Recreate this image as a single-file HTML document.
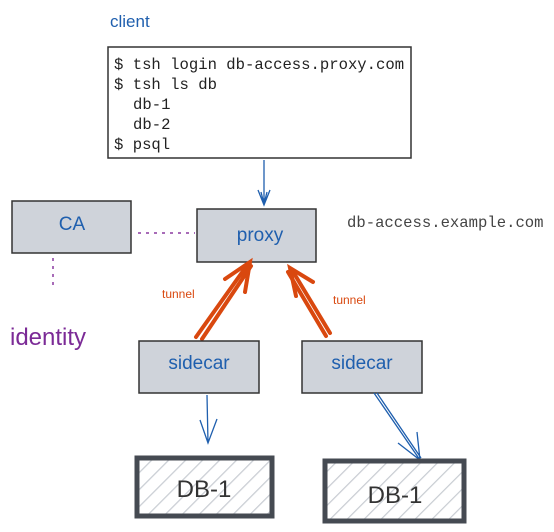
<!DOCTYPE html>
<html><head><style>
html,body{margin:0;padding:0;background:#fff;}
svg{display:block}
.h{font-family:"Comic Sans MS","Liberation Sans",sans-serif;}
.m{font-family:"Liberation Mono","DejaVu Sans Mono",monospace;}
</style></head><body>
<svg width="554" height="532" viewBox="0 0 554 532" xmlns="http://www.w3.org/2000/svg">
<defs>
<pattern id="hatch" width="12" height="12" patternUnits="userSpaceOnUse" patternTransform="rotate(45)">
<line x1="0" y1="0" x2="0" y2="12" stroke="#c9cdd3" stroke-width="2.5"/>
</pattern>
</defs>
<text x="110" y="27" class="h" font-size="17" fill="#1f5fae">client</text>
<rect x="108" y="47" width="303" height="111" fill="#fff" stroke="#333" stroke-width="1.5"/>
<text class="m" font-size="15.6" fill="#222">
<tspan x="114" y="69">$ tsh login db-access.proxy.com</tspan>
<tspan x="114" y="89">$ tsh ls db</tspan>
<tspan x="133" y="109">db-1</tspan>
<tspan x="133" y="129">db-2</tspan>
<tspan x="114" y="149">$ psql</tspan>
</text>
<path d="M264 160 L264 205 M258 190 L264 205 L270 190 M261 192 L264 204 L267 192" stroke="#1f5fae" stroke-width="1.3" fill="none"/>
<rect x="12" y="201" width="119" height="52" fill="#cfd3da" stroke="#333" stroke-width="1.5"/>
<text x="72" y="230" class="h" font-size="19" fill="#1f5fae" text-anchor="middle">CA</text>
<path d="M138 233 L195 233" stroke="#8b3aa0" stroke-width="1.5" stroke-dasharray="3,5"/>
<path d="M53 258 L53 288" stroke="#8b3aa0" stroke-width="1.5" stroke-dasharray="3,5"/>
<text x="10" y="345" class="h" font-size="24" fill="#7b2a96">identity</text>
<rect x="197" y="209" width="119" height="53" fill="#cfd3da" stroke="#333" stroke-width="1.5"/>
<text x="260" y="241" class="h" font-size="19" fill="#1f5fae" text-anchor="middle">proxy</text>
<text x="347" y="227" class="m" font-size="15.6" fill="#444">db-access.example.com</text>
<g stroke="#d9480f" stroke-width="4" fill="none" stroke-linecap="round">
<path d="M196 337 L248 264 M202 339 L251 266"/>
<path d="M225 279 L250 262 L245 292"/>
<path d="M330 333 L292 270 M326 336 L288 272"/>
<path d="M296 296 L290 268 L313 282"/>
</g>
<text x="162" y="298" class="h" font-size="12" fill="#d9480f">tunnel</text>
<text x="333" y="304" class="h" font-size="12" fill="#d9480f">tunnel</text>
<rect x="139" y="341" width="120" height="52" fill="#cfd3da" stroke="#333" stroke-width="1.5"/>
<text x="199" y="369" class="h" font-size="19" fill="#1f5fae" text-anchor="middle">sidecar</text>
<rect x="302" y="341" width="120" height="52" fill="#cfd3da" stroke="#333" stroke-width="1.5"/>
<text x="362" y="369" class="h" font-size="19" fill="#1f5fae" text-anchor="middle">sidecar</text>
<path d="M207 395 L208 443 M200 420 L208 443 L217 419" stroke="#1f5fae" stroke-width="1.3" fill="none"/>
<path d="M374 393 L420 460 M377 393 L421 458 M398 443 L420 460 L417 432" stroke="#1f5fae" stroke-width="1.3" fill="none"/>
<rect x="137" y="458" width="135" height="58" fill="url(#hatch)" stroke="#454a52" stroke-width="5"/>
<text x="204" y="497" class="h" font-size="24" fill="#333" text-anchor="middle">DB-1</text>
<rect x="325" y="461" width="139" height="60" fill="url(#hatch)" stroke="#454a52" stroke-width="5"/>
<text x="395" y="503" class="h" font-size="24" fill="#333" text-anchor="middle">DB-1</text>
</svg>
</body></html>
